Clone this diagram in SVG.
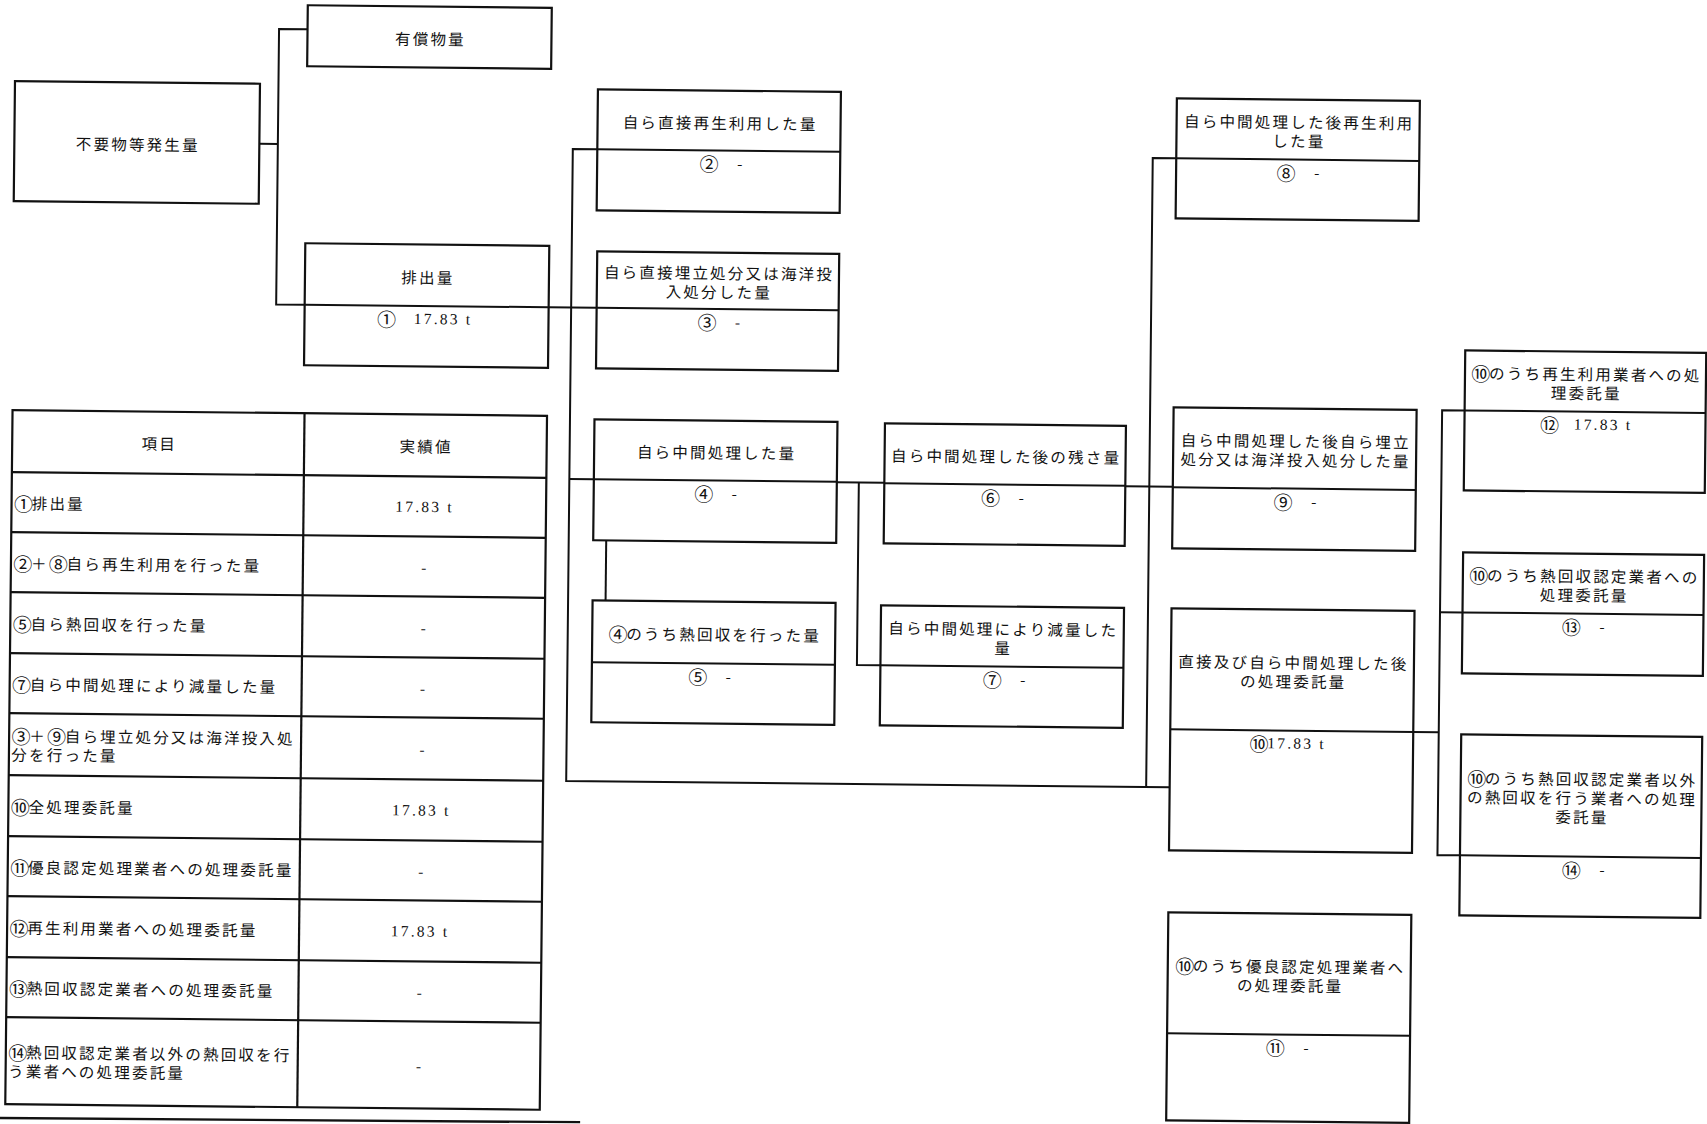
<svg xmlns="http://www.w3.org/2000/svg" width="1707" height="1124" viewBox="0 0 1707 1124">
<style>
.box{fill:none;stroke:#111;stroke-width:2.2}
.dv{stroke:#111;stroke-width:2}
.conn path{fill:none;stroke:#111;stroke-width:2}
.tb line,.tb rect{fill:none;stroke:#111;stroke-width:2.2}
text{font-family:'Noto Sans CJK JP',sans-serif;font-size:15.5px;letter-spacing:2.2px;fill:#111;dominant-baseline:central}
.c{text-anchor:middle}
.num{font-family:'Liberation Serif','Noto Sans CJK JP',serif}
.cd{font-size:19px;letter-spacing:-1.3px}
</style>
<rect x="0" y="0" width="1707" height="1124" fill="#fff"/>
<g transform="rotate(0.6 853 562)">
<g id="connectors" class="conn">
<path d="M255 150 H273.5"/>
<path d="M302 35 H273.5 V310.5 H302"/>
<path d="M546 310.5 H594"/>
<path d="M593 152 H568.5 V784 H1172"/>
<path d="M568.5 482 H593"/>
<path d="M606 543 V603"/>
<path d="M836 482.5 H883.5"/>
<path d="M858 482.5 V665 H881.5"/>
<path d="M1124.5 483.5 H1172"/>
<path d="M1172 155 H1148.5 V784"/>
<path d="M1415 726 H1440.5"/>
<path d="M1463 404 H1440.5 V849 H1463"/>
<path d="M1440.5 606 H1463"/>
<path d="M-3 1127 L586 1125" style="stroke-width:2.4"/>
</g>
<g id="n-fuyo">
<rect class="box" x="10" y="90" width="245" height="120"/>
<text class="c" x="133.5" y="151">不要物等発生量</text>
</g>
<g id="n-yusho">
<rect class="box" x="302" y="11" width="244" height="61"/>
<text class="c" x="425" y="42.5">有償物量</text>
</g>
<g id="n1">
<rect class="box" x="302" y="249" width="244" height="122"/>
<line class="dv" x1="302" y1="310.5" x2="546" y2="310.5"/>
<text class="c" x="425" y="281">排出量</text>
<text x="374.5" y="322.5"><tspan class="cd">①</tspan><tspan class="num" dx="13"> 17.83 t</tspan></text>
</g>
<g id="n2">
<rect class="box" x="593" y="92" width="243" height="121"/>
<line class="dv" x1="593" y1="152" x2="836" y2="152"/>
<text class="c" x="715.5" y="123.5">自ら直接再生利用した量</text>
<text x="695.5" y="164"><tspan class="cd">②</tspan><tspan dx="14"> -</tspan></text>
</g>
<g id="n3">
<rect class="box" x="594" y="254" width="242" height="117"/>
<line class="dv" x1="594" y1="310.5" x2="836" y2="310.5"/>
<text class="c" x="716" y="273.5">自ら直接埋立処分又は海洋投<tspan x="716" dy="19">入処分した量</tspan></text>
<text x="695" y="322.5"><tspan class="cd">③</tspan><tspan dx="14"> -</tspan></text>
</g>
<g id="n4">
<rect class="box" x="593" y="422" width="243" height="121"/>
<line class="dv" x1="593" y1="482" x2="836" y2="482"/>
<text class="c" x="715.5" y="453">自ら中間処理した量</text>
<text x="693.5" y="494"><tspan class="cd">④</tspan><tspan dx="14"> -</tspan></text>
</g>
<g id="n5">
<rect class="box" x="593" y="603" width="243" height="122"/>
<line class="dv" x1="593" y1="665" x2="836" y2="665"/>
<text class="c" x="715.5" y="635"><tspan class="cd">④</tspan>のうち熱回収を行った量</text>
<text x="689.5" y="677"><tspan class="cd">⑤</tspan><tspan dx="14"> -</tspan></text>
</g>
<g id="n6">
<rect class="box" x="883.5" y="423" width="241" height="120"/>
<line class="dv" x1="883.5" y1="483" x2="1124.5" y2="483"/>
<text class="c" x="1005" y="454">自ら中間処理した後の残さ量</text>
<text x="980.5" y="495"><tspan class="cd">⑥</tspan><tspan dx="14"> -</tspan></text>
</g>
<g id="n7">
<rect class="box" x="881.5" y="605" width="243" height="120"/>
<line class="dv" x1="881.5" y1="665" x2="1124.5" y2="665"/>
<text class="c" x="1004" y="626.5">自ら中間処理により減量した<tspan x="1004" dy="19">量</tspan></text>
<text x="984" y="677"><tspan class="cd">⑦</tspan><tspan dx="14"> -</tspan></text>
</g>
<g id="n8">
<rect class="box" x="1172" y="95" width="243" height="120"/>
<line class="dv" x1="1172" y1="155" x2="1415" y2="155"/>
<text class="c" x="1294.5" y="116.5">自ら中間処理した後再生利用<tspan x="1294.5" dy="19">した量</tspan></text>
<text x="1272.5" y="167"><tspan class="cd">⑧</tspan><tspan dx="14"> -</tspan></text>
</g>
<g id="n9">
<rect class="box" x="1172" y="404" width="243" height="141"/>
<line class="dv" x1="1172" y1="484" x2="1415" y2="484"/>
<text class="c" x="1294.5" y="435.5">自ら中間処理した後自ら埋立<tspan x="1294.5" dy="19">処分又は海洋投入処分した量</tspan></text>
<text x="1273" y="496"><tspan class="cd">⑨</tspan><tspan dx="14"> -</tspan></text>
</g>
<g id="n10">
<rect class="box" x="1172" y="605" width="243" height="242"/>
<line class="dv" x1="1172" y1="726" x2="1415" y2="726"/>
<text class="c" x="1294.5" y="657">直接及び自ら中間処理した後<tspan x="1294.5" dy="19">の処理委託量</tspan></text>
<text x="1251.5" y="738"><tspan class="cd">⑩</tspan><tspan class="num">17.83 t</tspan></text>
</g>
<g id="n11">
<rect class="box" x="1172" y="909" width="243" height="208"/>
<line class="dv" x1="1172" y1="1030" x2="1415" y2="1030"/>
<text class="c" x="1294.5" y="961"><tspan class="cd">⑩</tspan>のうち優良認定処理業者へ<tspan x="1294.5" dy="19">の処理委託量</tspan></text>
<text x="1271" y="1042"><tspan class="cd">⑪</tspan><tspan dx="14"> -</tspan></text>
</g>
<g id="n12">
<rect class="box" x="1463" y="344" width="241" height="140"/>
<line class="dv" x1="1463" y1="404" x2="1704" y2="404"/>
<text class="c" x="1584.5" y="365.5"><tspan class="cd">⑩</tspan>のうち再生利用業者への処<tspan x="1584.5" dy="19">理委託量</tspan></text>
<text x="1538.5" y="416"><tspan class="cd">⑫</tspan><tspan class="num" dx="10"> 17.83 t</tspan></text>
</g>
<g id="n13">
<rect class="box" x="1463" y="546" width="241" height="121"/>
<line class="dv" x1="1463" y1="606" x2="1704" y2="606"/>
<text class="c" x="1584.5" y="567.5"><tspan class="cd">⑩</tspan>のうち熱回収認定業者への<tspan x="1584.5" dy="19">処理委託量</tspan></text>
<text x="1562.5" y="618"><tspan class="cd">⑬</tspan><tspan dx="14"> -</tspan></text>
</g>
<g id="n14">
<rect class="box" x="1463" y="728" width="241" height="181"/>
<line class="dv" x1="1463" y1="849" x2="1704" y2="849"/>
<text class="c" x="1584.5" y="770.5"><tspan class="cd">⑩</tspan>のうち熱回収認定業者以外<tspan x="1584.5" dy="19">の熱回収を行う業者への処理</tspan><tspan x="1584.5" dy="19">委託量</tspan></text>
<text x="1565" y="861"><tspan class="cd">⑭</tspan><tspan dx="14"> -</tspan></text>
</g>
<g id="table" class="tb">
<rect x="11" y="419" width="534.5" height="694"/>
<line x1="303" y1="419" x2="303" y2="1113"/>
<line x1="11" y1="481" x2="545.5" y2="481"/>
<line x1="11" y1="541" x2="545.5" y2="541"/>
<line x1="11" y1="601" x2="545.5" y2="601"/>
<line x1="11" y1="662" x2="545.5" y2="662"/>
<line x1="11" y1="722" x2="545.5" y2="722"/>
<line x1="11" y1="784" x2="545.5" y2="784"/>
<line x1="11" y1="845" x2="545.5" y2="845"/>
<line x1="11" y1="905" x2="545.5" y2="905"/>
<line x1="11" y1="966" x2="545.5" y2="966"/>
<line x1="11" y1="1026" x2="545.5" y2="1026"/>
<text class="c" x="158" y="450">項目</text>
<text class="c" x="425" y="450">実績値</text>
<text x="13.5" y="511"><tspan class="cd">①</tspan>排出量</text>
<text class="c num" x="424" y="511">17.83 t</text>
<text x="13.5" y="571"><tspan class="cd">②</tspan>＋<tspan class="cd">⑧</tspan>自ら再生利用を行った量</text>
<text class="c" x="425" y="571">-</text>
<text x="13.5" y="631.5"><tspan class="cd">⑤</tspan>自ら熱回収を行った量</text>
<text class="c" x="425" y="631.5">-</text>
<text x="13.5" y="692"><tspan class="cd">⑦</tspan>自ら中間処理により減量した量</text>
<text class="c" x="425" y="692">-</text>
<text x="13.5" y="743.5"><tspan class="cd">③</tspan>＋<tspan class="cd">⑨</tspan>自ら埋立処分又は海洋投入処<tspan x="13.5" dy="19">分を行った量</tspan></text>
<text class="c" x="425" y="753">-</text>
<text x="13.5" y="814.5"><tspan class="cd">⑩</tspan>全処理委託量</text>
<text class="c num" x="424" y="814.5">17.83 t</text>
<text x="13.5" y="875"><tspan class="cd">⑪</tspan>優良認定処理業者への処理委託量</text>
<text class="c" x="425" y="875">-</text>
<text x="13.5" y="935.5"><tspan class="cd">⑫</tspan>再生利用業者への処理委託量</text>
<text class="c num" x="424" y="935.5">17.83 t</text>
<text x="13.5" y="996"><tspan class="cd">⑬</tspan>熱回収認定業者への処理委託量</text>
<text class="c" x="425" y="996">-</text>
<text x="13.5" y="1060"><tspan class="cd">⑭</tspan>熱回収認定業者以外の熱回収を行<tspan x="13.5" dy="19">う業者への処理委託量</tspan></text>
<text class="c" x="425" y="1069.5">-</text>
</g>
</g>
</svg>
